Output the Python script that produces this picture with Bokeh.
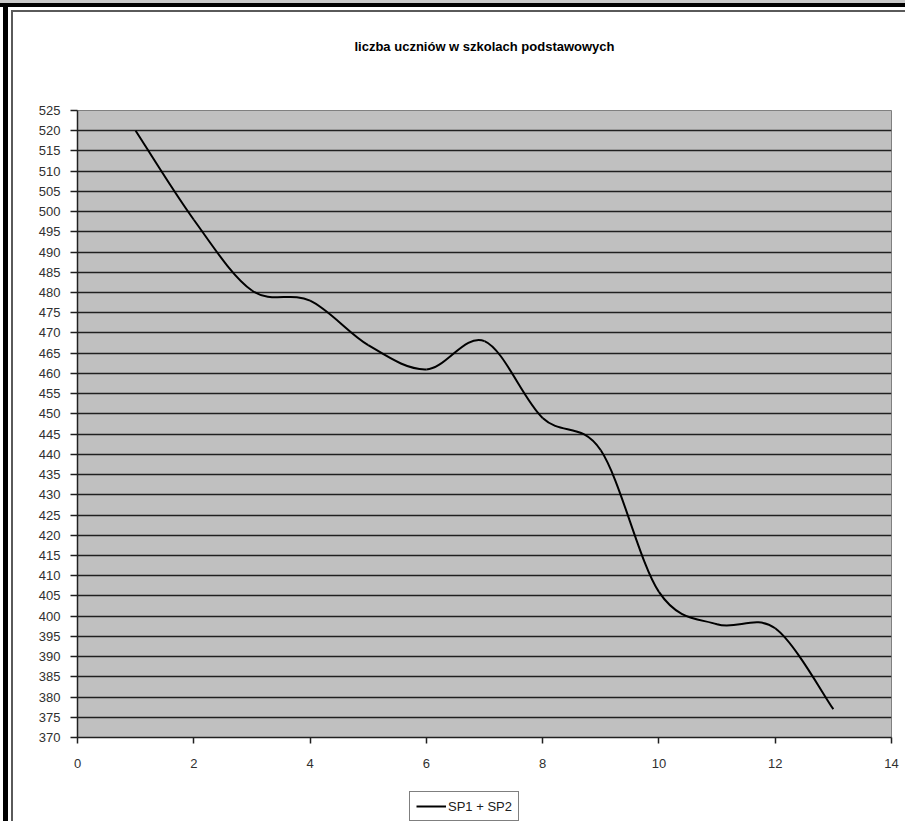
import numpy as np
from bokeh.plotting import figure
from bokeh.layouts import column
from bokeh.models import (FixedTicker, Legend, LegendItem, ColumnDataSource,
                          Range1d, Label)
from bokeh.embed import file_html
from bokeh.resources import INLINE

# data
years = [1, 2, 3, 4, 5, 6, 7, 8, 9, 10, 11, 12, 13]
students = [520, 498, 480.5, 478, 467, 461, 468, 449, 441, 406, 398, 397, 377]
series_name = "SP1 + SP2"
title_text = "liczba uczniów w szkolach podstawowych"
y_ticks = list(range(370, 530, 5))
x_ticks = [0, 2, 4, 6, 8, 10, 12, 14]

FRAME_W = 814
FRAME_H = 627
TOP_H = 100
BOT_H = 44

# smoothed (Excel-like) bezier segments between the data points
x = np.array(years, dtype=float)
y = np.array(students, dtype=float)
n = len(x)
xp = np.concatenate([[x[0]], x, [x[-1]]])
yp = np.concatenate([[y[0]], y, [y[-1]]])
src = ColumnDataSource(dict(
    x0=x[:-1], y0=y[:-1], x1=x[1:], y1=y[1:],
    cx0=x[:-1] + (xp[2:n + 1] - xp[0:n - 1]) / 6.0,
    cy0=y[:-1] + (yp[2:n + 1] - yp[0:n - 1]) / 6.0,
    cx1=x[1:] - (xp[3:n + 2] - xp[1:n]) / 6.0,
    cy1=y[1:] - (yp[3:n + 2] - yp[1:n]) / 6.0,
))


def blank(height):
    f = figure(frame_width=FRAME_W, frame_height=height, output_backend="svg",
               toolbar_location=None, x_range=Range1d(0, FRAME_W),
               y_range=Range1d(0, height), min_border=0,
               min_border_left=77, min_border_right=14,
               border_fill_alpha=0, background_fill_alpha=0)
    f.axis.visible = False
    f.grid.visible = False
    f.outline_line_color = None
    return f


# title strip
pt = blank(TOP_H)
pt.add_layout(Label(x=FRAME_W / 2, y=TOP_H - 46, text=title_text,
                    text_align="center", text_baseline="middle",
                    text_font="Liberation Sans", text_font_size="13px",
                    text_font_style="bold", text_color="black"))

# main chart
p = figure(frame_width=FRAME_W, frame_height=FRAME_H, output_backend="svg",
           toolbar_location=None,
           x_range=Range1d(0, 14), y_range=Range1d(370, 525),
           min_border_left=77, min_border_right=14, min_border_top=10,
           min_border_bottom=40, background_fill_color="#c0c0c0",
           border_fill_alpha=0)
p.outline_line_color = "#808080"
p.outline_line_width = 1
p.xgrid.grid_line_color = None
p.ygrid.grid_line_color = "#202020"
p.ygrid.grid_line_width = 1.5
p.yaxis.ticker = FixedTicker(ticks=y_ticks)
p.xaxis.ticker = FixedTicker(ticks=x_ticks)
for ax in (p.xaxis[0], p.yaxis[0]):
    ax.axis_line_color = "#202020"
    ax.axis_line_width = 1.5
    ax.major_tick_line_color = "#202020"
    ax.major_tick_line_width = 1.5
    ax.major_tick_in = 0
    ax.minor_tick_line_color = None
    ax.major_label_text_font = "Liberation Sans"
    ax.major_label_text_font_size = "13px"
    ax.major_label_text_color = "#303030"
p.yaxis.major_tick_out = 7
p.xaxis.major_tick_out = 6
p.yaxis.major_label_standoff = 10
p.xaxis.major_label_standoff = 15

p.bezier(x0="x0", y0="y0", x1="x1", y1="y1", cx0="cx0", cy0="cy0",
         cx1="cx1", cy1="cy1", source=src, line_color="black", line_width=2)

# legend strip (its line renderer carries the same series, outside the view)
pb = blank(BOT_H)
lr = pb.line(x=years, y=students, line_color="black", line_width=2)
legend = Legend(items=[LegendItem(label=series_name, renderers=[lr])],
                location=(332, 0), orientation="horizontal",
                border_line_color="black", border_line_width=1,
                background_fill_color="white", background_fill_alpha=1,
                label_text_font="Liberation Sans", label_text_font_size="13px",
                label_text_color="#202020", glyph_width=30, glyph_height=16,
                label_standoff=2, padding=6, spacing=0, margin=0)
pb.add_layout(legend, "center")

layout = column(pt, p, pb, spacing=0)
# window-edge lines around the chart, as in the screenshot
layout.styles = {
    "background": ", ".join([
        "linear-gradient(#c8c8c8, #c8c8c8) 0 0 / 100% 3px no-repeat",
        "linear-gradient(#000, #000) 0 3px / 100% 4px no-repeat",
        "linear-gradient(#000, #000) 3px 0 / 5px 100% no-repeat",
        "linear-gradient(#5a5a5a, #5a5a5a) 11px 10px / 2px 100% no-repeat",
        "linear-gradient(#5a5a5a, #5a5a5a) 11px 10px / 100% 2px no-repeat",
        "white",
    ]),
}

open("out.html", "w").write(file_html(layout, INLINE))
